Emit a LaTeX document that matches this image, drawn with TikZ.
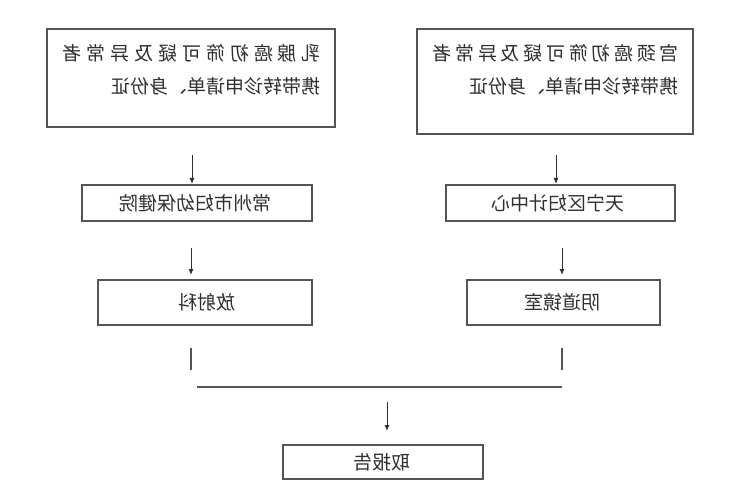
\documentclass[tikz,border=0pt]{standalone}
\usepackage{fontspec}
\setmainfont{Noto Sans CJK SC}
\usetikzlibrary{arrows.meta}
\definecolor{ink}{HTML}{303030}
\definecolor{edge}{HTML}{555555}
\tikzset{
  box/.style={draw=edge, line width=1.2pt},
  txt/.style={text=ink, font=\fontsize{19}{22}\selectfont, inner sep=0pt},
  arr/.style={draw=ink, line width=1pt, -{Latex[length=6pt,width=5pt]}},
  ln/.style={draw=edge, line width=1.2pt}
}
\newcommand{\mir}[1]{\reflectbox{#1}}
\begin{document}
\begin{tikzpicture}[x=1pt,y=-1pt]
\useasboundingbox[fill=white] (0,0) rectangle (750,500);
% boxes
\draw[box] (47,29) rectangle (335,127);
\draw[box] (417,29) rectangle (693,134);
\draw[box] (82,185) rectangle (312,221);
\draw[box] (446,185) rectangle (675,221);
\draw[box] (98,280) rectangle (312,325);
\draw[box] (467,280) rectangle (660,325);
\draw[box] (283,445) rectangle (483,479);
% texts (mirrored as in the reference)
\node[txt, anchor=east] (tl1) at (321,53) {\mir{\makebox[258pt][s]{乳\hfill 腺\hfill 癌\hfill 初\hfill 筛\hfill 可\hfill 疑\hfill 及\hfill 异\hfill 常\hfill 者}}};
\node[txt, anchor=east] (tl2) at (321,86) {\mir{携带转诊申请单、身份证}};
\node[txt, anchor=east] (tr1) at (679,53) {\mir{\makebox[246pt][s]{宫\hfill 颈\hfill 癌\hfill 初\hfill 筛\hfill 可\hfill 疑\hfill 及\hfill 异\hfill 常\hfill 者}}};
\node[txt, anchor=east] (tr2) at (679,86) {\mir{携带转诊申请单、身份证}};
\node[txt] (ml) at (195,203) {\mir{常州市妇幼保健院}};
\node[txt] (mr) at (558,203) {\mir{天宁区妇计中心}};
\node[txt] (ll) at (207,302) {\mir{放射科}};
\node[txt] (lr) at (562,302) {\mir{阴道镜室}};
\node[txt] (bt) at (382,462) {\mir{取报告}};
% connectors
\coordinate (a1s) at (192,155); \coordinate (a1e) at (192,184);
\coordinate (a2s) at (556,155); \coordinate (a2e) at (556,184);
\coordinate (a3s) at (191,248); \coordinate (a3e) at (191,275);
\coordinate (a4s) at (562,248); \coordinate (a4e) at (562,275);
\coordinate (l1s) at (191,348); \coordinate (l1e) at (191,370);
\coordinate (l2s) at (562,348); \coordinate (l2e) at (562,370);
\coordinate (hs) at (197,387); \coordinate (he) at (562,387);
\coordinate (a5s) at (387,402); \coordinate (a5e) at (387,431);
\draw[arr] (a1s) -- (a1e);
\draw[arr] (a2s) -- (a2e);
\draw[arr] (a3s) -- (a3e);
\draw[arr] (a4s) -- (a4e);
\draw[ln] (l1s) -- (l1e);
\draw[ln] (l2s) -- (l2e);
\draw[ln] (hs) -- (he);
\draw[arr] (a5s) -- (a5e);
\end{tikzpicture}
\end{document}
